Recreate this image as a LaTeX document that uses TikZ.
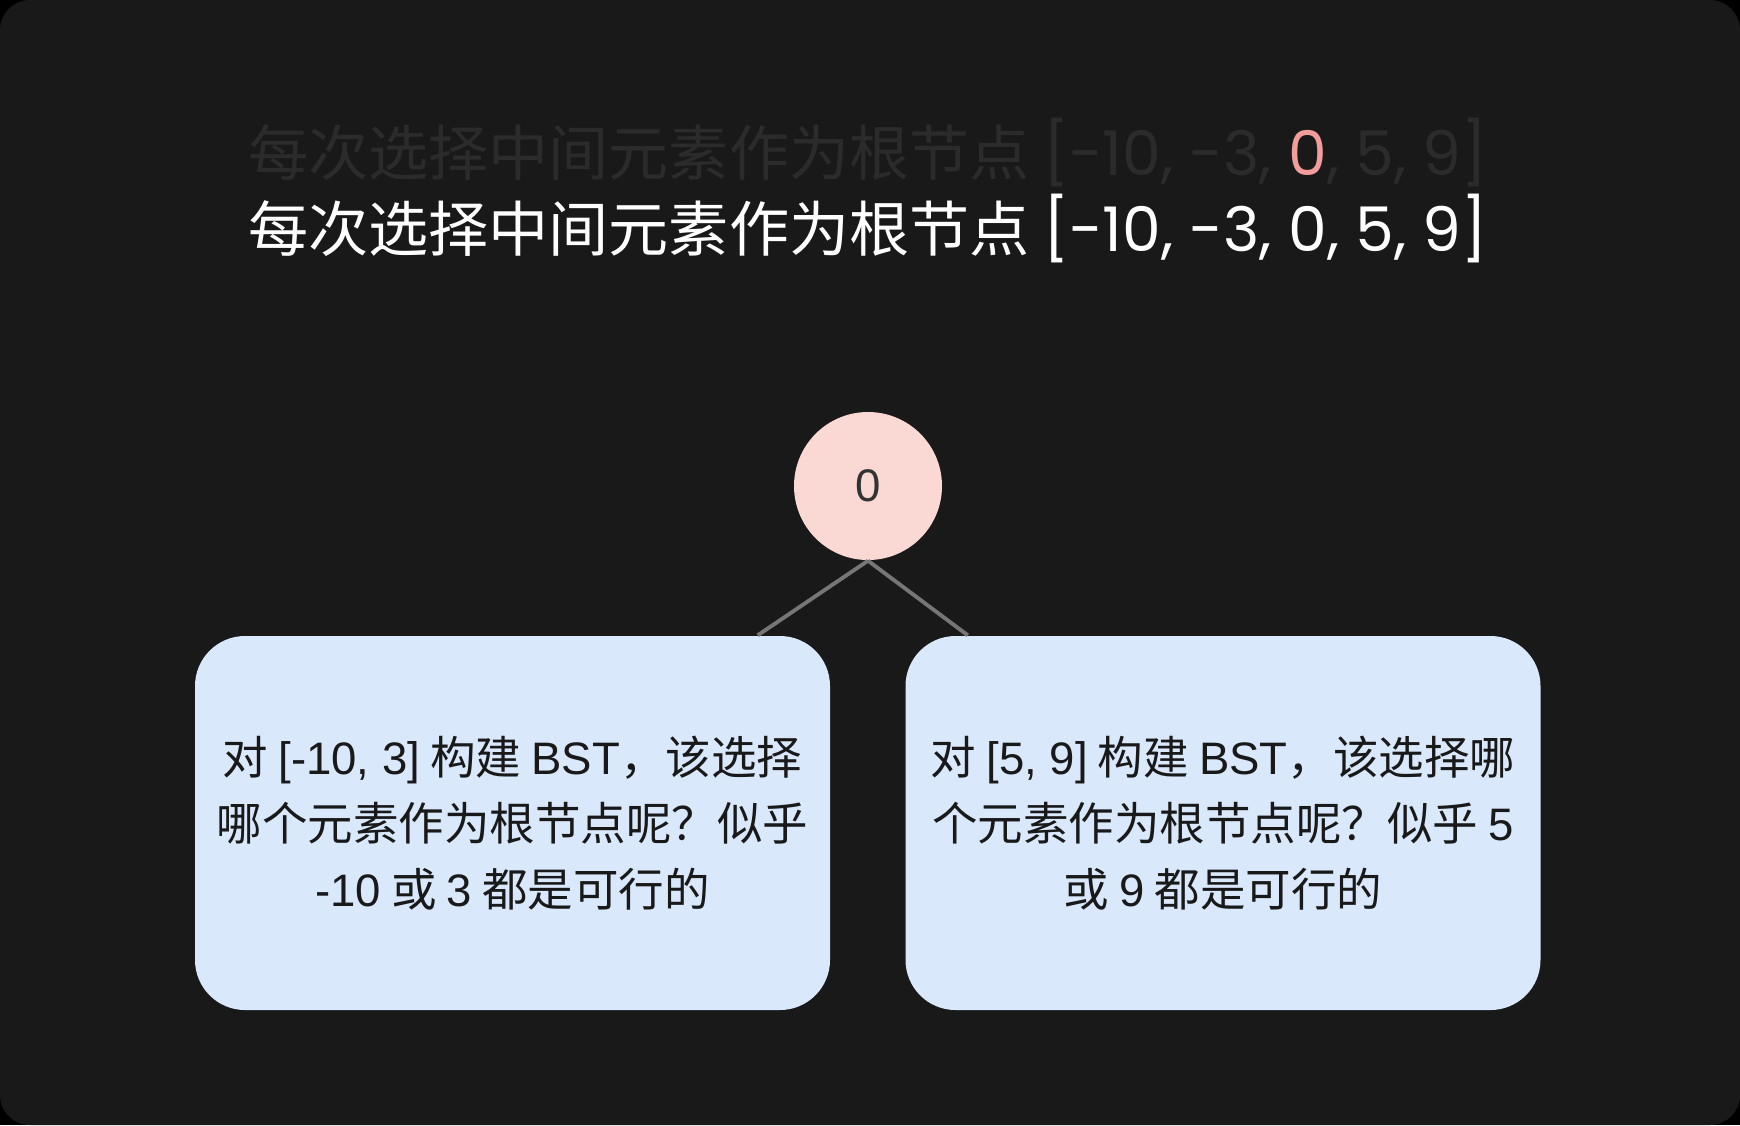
\documentclass[tikz,border=0pt]{standalone}
\usepackage{fontspec}
\setmainfont{Noto Sans CJK SC}
\newfontfamily\arialfont{Liberation Sans}
\newfontfamily\titlefont{Poppins}
\newcommand\latn[1]{{\arialfont #1}}
\definecolor{canvasDark}{HTML}{191919}
\definecolor{ghostGray}{HTML}{2B2B2B}
\definecolor{rootPink}{HTML}{FAD9D5}
\definecolor{hiPink}{HTML}{F29C9C}
\definecolor{boxBlue}{HTML}{DAE8FC}
\definecolor{edgeGray}{HTML}{767676}
\usepackage{tikz}

\begin{document}
\begin{tikzpicture}[
    heading/.style={font=\fontsize{17.1}{20}\selectfont, inner sep=0pt},
    root/.style={circle, fill=rootPink, minimum size=1.48cm, inner sep=0pt,
                 text=black!80, font=\arialfont\fontsize{13}{15}\selectfont},
    subbox/.style={fill=boxBlue, rounded corners=0.5cm, minimum width=6.35cm,
                   minimum height=3.74cm, align=center, text=black!90,
                   font=\fontsize{12.95}{18.8}\selectfont},
    link/.style={draw=edgeGray, line width=1.1pt}
  ]
    % Canvas
    \fill[black] (0,0) rectangle (17.4,-11.25);
    \fill[canvasDark, rounded corners=0.3cm] (0,0) rectangle (17.4,-11.25);

    % Titles
    \node[heading, text=ghostGray] (ghost) at (8.68,-1.52)
      {每次选择中间元素作为根节点 {\titlefont\fontsize{17.5}{20}\selectfont [-10, -3, \textcolor{hiPink}{0}, 5, 9]}};
    \node[heading, text=white] (title) at (8.68,-2.28)
      {每次选择中间元素作为根节点 {\titlefont\fontsize{17.5}{20}\selectfont [-10, -3, 0, 5, 9]}};

    % Root
    \node[root] (root) at (8.68,-4.86) {0};

    % Subarrays
    \node[subbox] (lbox) at (5.125,-8.23)
      {对 \latn{[-10, 3]} 构建 \latn{BST}，该选择\\哪个元素作为根节点呢？似乎\\\latn{-10} 或 \latn{3} 都是可行的};
    \node[subbox] (rbox) at (12.23,-8.23)
      {对 \latn{[5, 9]} 构建 \latn{BST}，该选择哪\\个元素作为根节点呢？似乎 \latn{5}\\或 \latn{9} 都是可行的};

    \draw[link] (root.south) -- ([xshift=-0.73cm]lbox.north east);
    \draw[link] (root.south) -- ([xshift=0.63cm]rbox.north west);
  \end{tikzpicture}
\end{document}
